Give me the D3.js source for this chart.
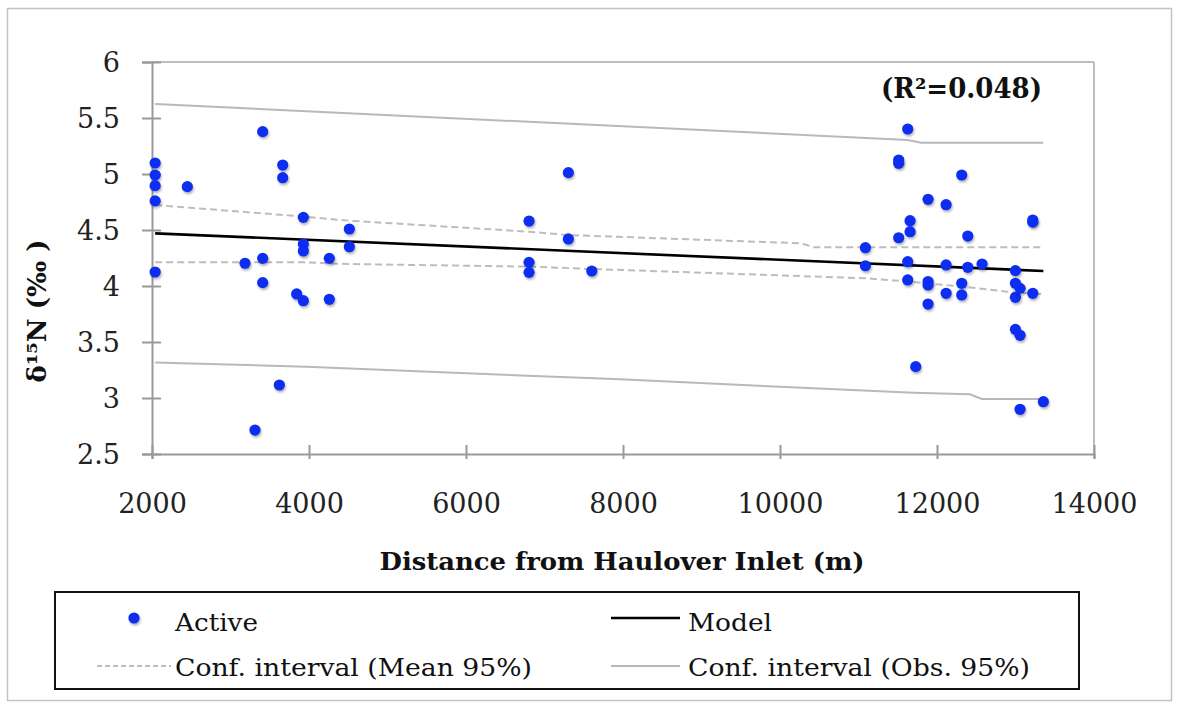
<!DOCTYPE html>
<html>
<head>
<meta charset="utf-8">
<script src="https://cdn.jsdelivr.net/npm/d3@7"></script>
<style>
  html, body { margin: 0; padding: 0; background: #fff; }
  svg { display: block; }
</style>
</head>
<body>
<svg id="chart" width="1182" height="707"></svg>
<script>
// ---------- data ----------
const pointX = [
  2040, 2040, 2040, 2040, 2040,
  2450, 3185, 3312,
  3410, 3410, 3410,
  3622, 3665, 3665, 3843,
  3928, 3928, 3928, 3928,
  4259, 4259, 4514, 4514,
  6803, 6803, 6803, 7304, 7304, 7602,
  11088, 11088,
  11512, 11512, 11512,
  11627, 11627, 11627,
  11657, 11657, 11729,
  11886, 11886, 11886, 11886,
  12116, 12116, 12116,
  12315, 12315, 12315,
  12392, 12392, 12574,
  12999, 12999, 12999, 12999,
  13058, 13058, 13058,
  13220, 13220, 13220, 13355
];
const pointY = [
  5.098, 4.99, 4.896, 4.76, 4.125,
  4.887, 4.203, 2.714,
  5.378, 4.247, 4.03,
  3.116, 5.08, 4.967, 3.929,
  4.613, 4.375, 4.313, 3.869,
  4.247, 3.881, 4.509, 4.351,
  4.58, 4.211, 4.122, 5.012, 4.42, 4.134,
  4.342, 4.181,
  5.125, 5.095, 4.431,
  5.402, 4.217, 4.054,
  4.583, 4.485, 3.28,
  4.774, 4.04, 4.009, 3.839,
  4.726, 4.188, 3.935,
  4.991, 4.024, 3.92,
  4.446, 4.167, 4.196,
  4.137, 4.024, 3.899, 3.613,
  3.979, 3.56, 2.899,
  4.589, 4.57, 3.935, 2.967
];

const modelX = [2040, 13355];
const modelY = [4.47, 4.134];

const meanUpX = [2040, 3928, 4514, 6803, 7304, 10275, 10434, 13355];
const meanUpY = [4.723, 4.62, 4.583, 4.485, 4.455, 4.381, 4.345, 4.345];
const meanLoX = [2040, 3928, 4514, 6803, 7602, 11088, 11627, 12392, 12999, 13355];
const meanLoY = [4.211, 4.211, 4.196, 4.173, 4.152, 4.069, 4.040, 3.99, 3.94, 3.928];

const obsUpX = [2040, 11627, 11800, 13355];
const obsUpY = [5.625, 5.304, 5.28, 5.28];
const obsLoX = [2040, 3968, 6009, 7962, 10000, 11700, 12421, 12570, 13355];
const obsLoY = [3.316, 3.28, 3.22, 3.167, 3.10, 3.047, 3.033, 2.991, 2.991];

const xTicks = [2000, 4000, 6000, 8000, 10000, 12000, 14000];
const yTicks = [2.5, 3, 3.5, 4, 4.5, 5, 5.5, 6];

const xTitle = "Distance from Haulover Inlet (m)";
const yTitle = "δ¹⁵N (‰ )";
const r2Label = "(R²=0.048)";
const legendLabels = ["Active", "Model", "Conf. interval (Mean 95%)", "Conf. interval (Obs. 95%)"];

// ---------- drawing ----------
const svg = d3.select("#chart");
const FONT = "'DejaVu Serif', 'Liberation Serif', serif";

const x = d3.scaleLinear().domain([2000, 14000]).range([152, 1094]);
const y = d3.scaleLinear().domain([2.5, 6]).range([454, 62]);

// outer frame
svg.append("rect").attr("x", 7.5).attr("y", 8.5).attr("width", 1164).attr("height", 692)
  .attr("fill", "none").attr("stroke", "#c4c4c4").attr("stroke-width", 1.5);

// shadow filter for dots
const defs = svg.append("defs");
const f = defs.append("filter").attr("id", "sh").attr("x", "-50%").attr("y", "-50%").attr("width", "200%").attr("height", "200%");
f.append("feDropShadow").attr("dx", 1).attr("dy", 2).attr("stdDeviation", 1.3)
  .attr("flood-color", "#000").attr("flood-opacity", 0.3);

// plot frame top/right
svg.append("line").attr("x1", x(2000)).attr("x2", x(14000)).attr("y1", y(6)).attr("y2", y(6))
  .attr("stroke", "#a8a8a8").attr("stroke-width", 1.5);
svg.append("line").attr("x1", x(14000)).attr("x2", x(14000)).attr("y1", y(6)).attr("y2", y(2.5))
  .attr("stroke", "#a8a8a8").attr("stroke-width", 1.5);

// axes
const yAxis = svg.append("g").attr("transform", `translate(${x(2000)},0)`)
  .call(d3.axisLeft(y).tickValues(yTicks).tickFormat(d3.format("")).tickSize(10).tickPadding(22));
yAxis.select(".domain").attr("stroke", "#999").attr("stroke-width", 2);
yAxis.selectAll(".tick line").attr("x1", -10).attr("x2", 9).attr("stroke", "#999").attr("stroke-width", 2);
yAxis.selectAll(".tick text").attr("x", -32).attr("dy", "0.36em")
  .attr("font-family", FONT).attr("font-size", 27).attr("fill", "#222");

const xAxis = svg.append("g").attr("transform", `translate(0,${y(2.5)})`)
  .call(d3.axisBottom(x).tickValues(xTicks).tickFormat(d3.format("")).tickSize(5));
xAxis.select(".domain").attr("stroke", "#999").attr("stroke-width", 2);
xAxis.selectAll(".tick line").attr("y1", -9).attr("y2", 5).attr("stroke", "#999").attr("stroke-width", 2);
xAxis.selectAll(".tick text").attr("y", 59).attr("dy", 0)
  .attr("font-family", FONT).attr("font-size", 27).attr("fill", "#222");

// lines
const line = d3.line().x(d => x(d[0])).y(d => y(d[1]));
const zip = (a, b) => a.map((v, i) => [v, b[i]]);

svg.append("path").datum(zip(obsUpX, obsUpY)).attr("d", line)
  .attr("fill", "none").attr("stroke", "#b9b9b9").attr("stroke-width", 2);
svg.append("path").datum(zip(obsLoX, obsLoY)).attr("d", line)
  .attr("fill", "none").attr("stroke", "#b9b9b9").attr("stroke-width", 2);
svg.append("path").datum(zip(meanUpX, meanUpY)).attr("d", line)
  .attr("fill", "none").attr("stroke", "#bdbdbd").attr("stroke-width", 2).attr("stroke-dasharray", "7,4");
svg.append("path").datum(zip(meanLoX, meanLoY)).attr("d", line)
  .attr("fill", "none").attr("stroke", "#bdbdbd").attr("stroke-width", 2).attr("stroke-dasharray", "7,4");
svg.append("path").datum(zip(modelX, modelY)).attr("d", line)
  .attr("fill", "none").attr("stroke", "#000").attr("stroke-width", 2.6);

// points
svg.append("g").selectAll("circle").data(zip(pointX, pointY)).join("circle")
  .attr("cx", d => x(d[0])).attr("cy", d => y(d[1])).attr("r", 5.6)
  .attr("fill", "#0a2ef0").attr("filter", "url(#sh)");

// R² label
svg.append("text").attr("x", 881).attr("y", 98).text(r2Label)
  .attr("font-family", FONT).attr("font-weight", "bold").attr("font-size", 27)
  .attr("fill", "#111").attr("textLength", 161).attr("lengthAdjust", "spacingAndGlyphs");

// axis titles
svg.append("text").attr("x", 622).attr("y", 570).attr("text-anchor", "middle").text(xTitle)
  .attr("font-family", FONT).attr("font-weight", "bold").attr("font-size", 25)
  .attr("fill", "#111").attr("textLength", 485).attr("lengthAdjust", "spacingAndGlyphs");

svg.append("text").attr("transform", "translate(37,311) rotate(-90)")
  .attr("text-anchor", "middle").attr("dy", "0.36em").text(yTitle)
  .attr("font-family", FONT).attr("font-weight", "bold").attr("font-size", 26)
  .attr("fill", "#111").attr("textLength", 143).attr("lengthAdjust", "spacingAndGlyphs");

// legend
const lg = svg.append("g");
lg.append("rect").attr("x", 55).attr("y", 592).attr("width", 1024).attr("height", 97)
  .attr("fill", "#fff").attr("stroke", "#111").attr("stroke-width", 2);

const row1 = 618, row2 = 666, base1 = 631, base2 = 676;
lg.append("circle").attr("cx", 134).attr("cy", row1).attr("r", 5.6).attr("fill", "#0a2ef0").attr("filter", "url(#sh)");
lg.append("line").attr("x1", 97).attr("x2", 171).attr("y1", row2).attr("y2", row2)
  .attr("stroke", "#bdbdbd").attr("stroke-width", 2).attr("stroke-dasharray", "5,3");
lg.append("line").attr("x1", 611).attr("x2", 680).attr("y1", row1).attr("y2", row1)
  .attr("stroke", "#000").attr("stroke-width", 2.5);
lg.append("line").attr("x1", 611).attr("x2", 680).attr("y1", row2).attr("y2", row2)
  .attr("stroke", "#b9b9b9").attr("stroke-width", 2);

const legItems = [
  {t: legendLabels[0], x: 175, y: base1, w: 83},
  {t: legendLabels[1], x: 688, y: base1, w: 84},
  {t: legendLabels[2], x: 175, y: base2, w: 357},
  {t: legendLabels[3], x: 688, y: base2, w: 342}
];
lg.selectAll("text.leg").data(legItems).join("text").attr("class", "leg")
  .attr("x", d => d.x).attr("y", d => d.y).text(d => d.t)
  .attr("font-family", FONT).attr("font-size", 25).attr("fill", "#111")
  .attr("textLength", d => d.w).attr("lengthAdjust", "spacingAndGlyphs");
</script>
</body>
</html>
